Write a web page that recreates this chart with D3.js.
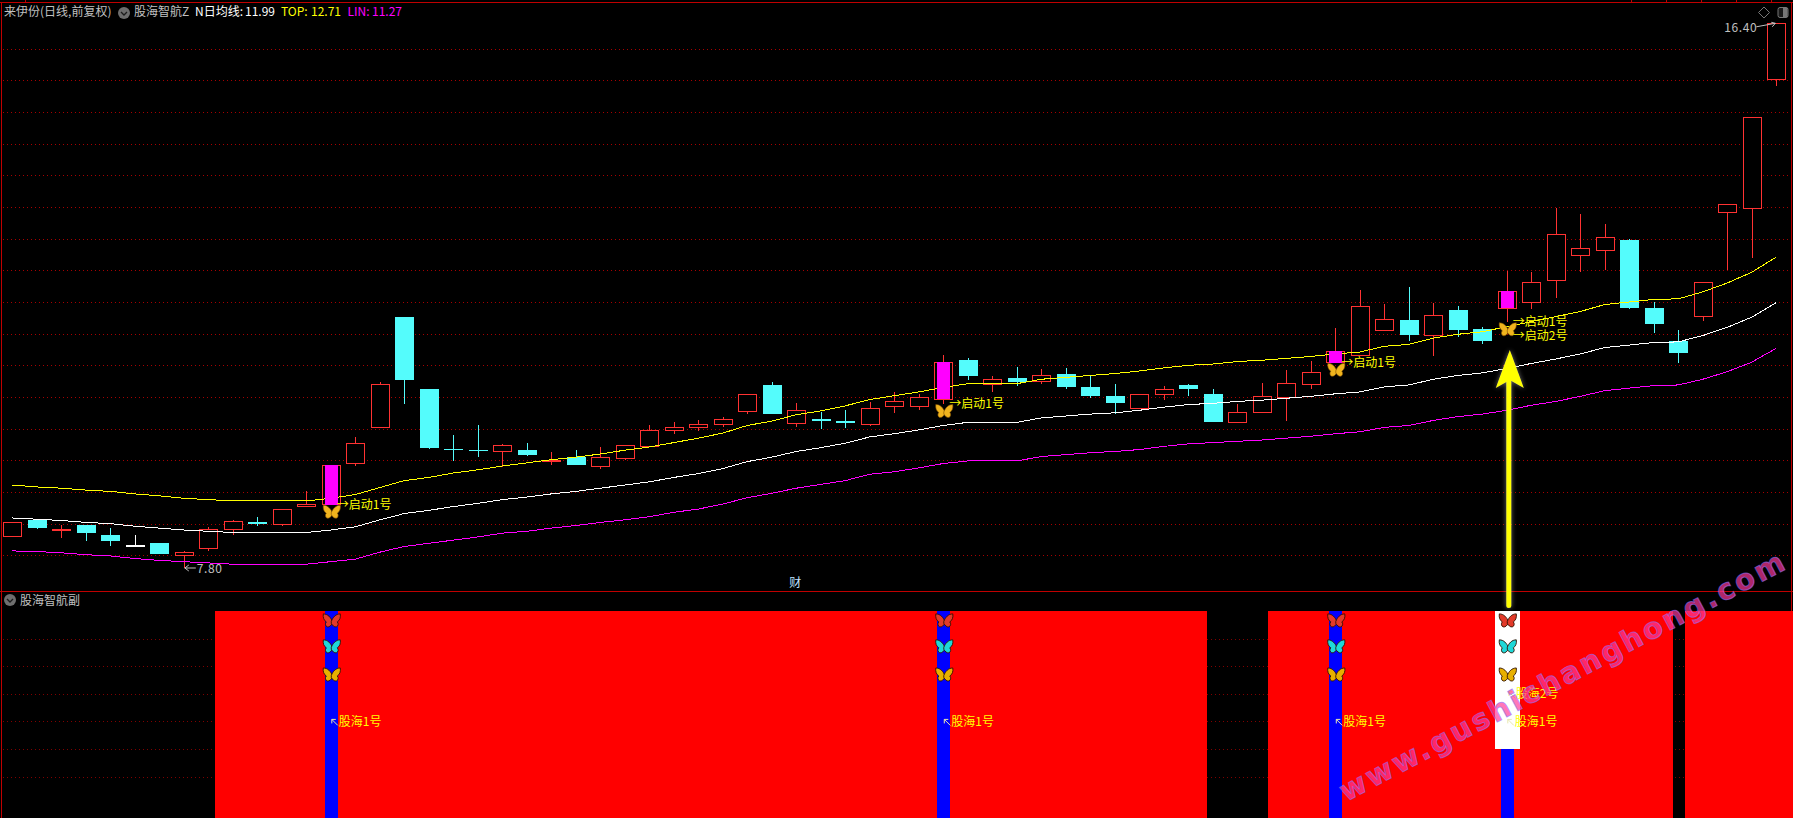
<!DOCTYPE html>
<html>
<head>
<meta charset="utf-8">
<title>来伊份 股海智航</title>
<script src="https://cdn.jsdelivr.net/npm/d3@7"></script>
<style>
html,body{margin:0;padding:0;background:#000;overflow:hidden}
svg{display:block}
text{font-family:"Noto Sans CJK SC","Noto Sans",sans-serif;font-size:12px}
</style>
</head>
<body>
<div id="chart"></div>
<script>
// values, one entry per trading day
const opens=[8.30,8.56,8.41,8.48,8.32,8.17,8.20,8.01,8.12,8.41,8.53,8.49,8.78,8.80,9.46,10.02,11.76,10.63,9.68,9.67,9.64,9.66,9.50,9.55,9.42,9.54,9.73,9.98,10.03,10.08,10.27,10.69,10.09,10.15,10.12,10.06,10.35,10.36,10.47,11.08,10.70,10.80,10.75,10.86,10.66,10.52,10.32,10.54,10.69,10.55,10.11,10.25,10.50,10.70,11.04,11.15,11.56,11.72,11.47,11.88,11.57,11.91,11.99,12.34,12.75,12.81,12.98,11.91,11.38,11.77,13.41,13.49,15.51];
const highs=[8.52,8.56,8.48,8.48,8.43,8.32,8.20,8.07,8.45,8.56,8.61,8.73,9.02,9.42,9.87,10.73,11.76,10.63,9.90,10.06,9.76,9.77,9.63,9.66,9.71,9.74,10.06,10.11,10.14,10.18,10.54,10.74,10.41,10.26,10.30,10.42,10.58,10.55,11.16,11.12,10.83,10.97,10.94,10.96,10.84,10.71,10.54,10.67,10.71,10.63,10.39,10.72,10.93,11.07,11.59,12.19,11.97,12.24,11.98,11.94,11.60,12.49,12.48,13.48,13.39,13.23,12.99,12.00,11.56,12.31,13.54,14.92,16.40];
const lows=[8.30,8.42,8.28,8.23,8.15,8.17,8.02,7.80,8.07,8.32,8.47,8.46,8.78,8.80,9.41,10.02,10.39,9.68,9.49,9.55,9.40,9.57,9.43,9.43,9.36,9.51,9.73,9.92,9.97,10.03,10.23,10.23,10.03,10.00,10.01,10.04,10.25,10.30,10.39,10.77,10.58,10.68,10.70,10.63,10.48,10.23,10.32,10.46,10.52,10.11,10.11,10.25,10.12,10.63,11.04,11.14,11.56,11.38,11.15,11.45,11.34,11.68,11.89,12.06,12.47,12.50,11.89,11.51,11.04,11.70,12.50,12.69,15.41];
const closes=[8.52,8.43,8.42,8.35,8.23,8.17,8.02,8.05,8.42,8.54,8.50,8.73,8.81,9.42,9.77,10.70,10.77,9.70,9.67,9.66,9.74,9.58,9.51,9.43,9.56,9.74,9.98,10.02,10.08,10.16,10.54,10.23,10.29,10.12,10.09,10.32,10.43,10.50,11.05,10.82,10.78,10.74,10.84,10.66,10.52,10.41,10.54,10.62,10.63,10.11,10.26,10.51,10.72,10.89,11.22,11.93,11.73,11.48,11.79,11.57,11.38,12.18,12.31,13.07,12.86,13.02,11.91,11.65,11.19,12.31,13.54,14.92,16.40];
const maLine=[8.59,8.57,8.55,8.52,8.50,8.46,8.43,8.40,8.38,8.36,8.36,8.36,8.36,8.40,8.45,8.56,8.66,8.71,8.77,8.82,8.88,8.92,8.97,9.01,9.06,9.11,9.16,9.23,9.29,9.37,9.48,9.55,9.64,9.70,9.77,9.87,9.92,9.98,10.05,10.10,10.10,10.10,10.17,10.20,10.23,10.25,10.29,10.34,10.38,10.40,10.43,10.45,10.48,10.51,10.55,10.58,10.66,10.69,10.78,10.84,10.88,10.95,11.03,11.10,11.18,11.28,11.32,11.36,11.37,11.47,11.60,11.76,11.99];
const topLine=[9.11,9.08,9.06,9.03,9.01,8.97,8.94,8.90,8.88,8.86,8.86,8.86,8.86,8.90,8.96,9.07,9.18,9.23,9.30,9.35,9.41,9.46,9.51,9.55,9.60,9.66,9.71,9.78,9.85,9.93,10.05,10.12,10.22,10.28,10.36,10.46,10.52,10.58,10.65,10.71,10.71,10.71,10.78,10.81,10.84,10.87,10.91,10.96,11.00,11.02,11.06,11.08,11.11,11.14,11.18,11.21,11.30,11.33,11.43,11.49,11.53,11.61,11.69,11.77,11.85,11.96,12.00,12.04,12.05,12.16,12.30,12.47,12.71];
const linLine=[8.07,8.06,8.04,8.01,7.99,7.95,7.92,7.90,7.88,7.86,7.86,7.86,7.86,7.90,7.94,8.05,8.14,8.19,8.24,8.29,8.35,8.38,8.43,8.47,8.52,8.56,8.61,8.68,8.73,8.81,8.91,8.98,9.06,9.12,9.18,9.28,9.32,9.38,9.45,9.49,9.49,9.49,9.56,9.59,9.62,9.64,9.67,9.72,9.76,9.78,9.80,9.82,9.85,9.88,9.92,9.95,10.02,10.05,10.13,10.19,10.23,10.29,10.37,10.43,10.51,10.60,10.64,10.68,10.69,10.78,10.90,11.05,11.27];
const gridPrices=[8,8.5,9,9.5,10,10.5,11,11.5,12,12.5,13,13.5,14,14.5,15,15.5,16];
const subGrid=[1,2,3,4,5,6];
const signalDays=[13,38,54,61];      // magenta candle, blue stick, butterflies
const secondSignalDays=[61];         // white stick, 启动2号, 股海2号
const redSpans=[[9,48],[52,67],[69,72]];
const subButterflies=[{v:6.66,c:"#e23a2a"},{v:5.72,c:"#1fd8d8"},{v:4.7,c:"#e8b000"}];

const W=1793,H=818,RED="#ff3232",CYAN="#54fcfc",border="#c00000";
const n=closes.length,days=d3.range(n);
const svg=d3.select("#chart").append("svg").attr("width",W).attr("height",H).style("background","#000");
const x=d3.scaleLinear().domain([0,n-1]).range([12.3,1776.3]);
const y=d3.scaleLinear().domain([7.80,16.40]).range([568,23.3]);
const sy=d3.scaleLinear().domain([-0.5,7]).range([818,611]);
const px=v=>Math.round(v)+.5;

// frame
const frame=svg.append("g").attr("shape-rendering","crispEdges").attr("stroke",border);
frame.append("line").attr("x1",0).attr("x2",W).attr("y1",2.5).attr("y2",2.5);
frame.append("line").attr("x1",1.5).attr("x2",1.5).attr("y1",2).attr("y2",H);
frame.append("line").attr("x1",W-1.5).attr("x2",W-1.5).attr("y1",2).attr("y2",H);
frame.append("line").attr("x1",0).attr("x2",W).attr("y1",591.5).attr("y2",591.5);
frame.selectAll(".tick").data([25,1631,1666,1701,1736,1771]).join("line")
  .attr("x1",d=>d+.5).attr("x2",d=>d+.5).attr("y1",0).attr("y2",2);

// grids
svg.append("g").selectAll("line").data(gridPrices).join("line")
  .attr("x1",3).attr("x2",1789).attr("y1",d=>px(y(d))).attr("y2",d=>px(y(d)))
  .attr("stroke","#a80000").attr("stroke-dasharray","1 3").attr("shape-rendering","crispEdges");
svg.append("g").selectAll("line").data(subGrid).join("line")
  .attr("x1",3).attr("x2",1789).attr("y1",d=>px(sy(d))).attr("y2",d=>px(sy(d)))
  .attr("stroke","#800000").attr("stroke-dasharray","1 3").attr("shape-rendering","crispEdges");

// butterfly icon
const wing="M.5,1C-1,-3-4,-6.5-8.5,-6.5C-9,-3-8,0-5.5,1.5C-7,3-6.5,6-4.5,6.5C-2.5,7-.7,5,.5,3Z";
const defs=svg.append("defs");
const bf=defs.append("g").attr("id","butterfly");
bf.append("path").attr("d",wing);
bf.append("path").attr("d",wing).attr("transform","scale(-1,1)");
defs.append("filter").attr("id","glow").attr("x","-50%").attr("y","-10%").attr("width","200%").attr("height","120%")
  .append("feDropShadow").attr("dx",0).attr("dy",0).attr("stdDeviation",2.5).attr("flood-color","#999").attr("flood-opacity",.7);

// candles
const color=i=>closes[i]>opens[i]?RED:closes[i]<opens[i]?CYAN:"#fff";
const cg=svg.append("g").attr("shape-rendering","crispEdges");
cg.selectAll(".wick").data(days).join("line")
  .attr("x1",i=>px(x(i))).attr("x2",i=>px(x(i))).attr("y1",i=>y(highs[i])).attr("y2",i=>y(lows[i]))
  .attr("stroke",color);
cg.selectAll(".body").data(days).join("rect")
  .attr("x",i=>closes[i]<opens[i]?Math.round(x(i))-9:Math.round(x(i))-8.5)
  .attr("width",i=>closes[i]<opens[i]?19:18)
  .attr("y",i=>Math.round(y(Math.max(opens[i],closes[i])))+(closes[i]<opens[i]?0:.5))
  .attr("height",i=>Math.max(1,Math.round(Math.abs(y(opens[i])-y(closes[i])))))
  .attr("fill",i=>closes[i]<opens[i]?CYAN:"#000").attr("stroke",i=>closes[i]<opens[i]?"none":color(i));

// indicator lines
[[maLine,"#fff"],[topLine,"#ffff00"],[linLine,"#ff00ff"]].forEach(([vals,c])=>{
  svg.append("path").datum(vals)
    .attr("d",d3.line().x((d,i)=>x(i)).y(d=>y(d)))
    .attr("fill","none").attr("stroke",c).attr("stroke-width",1).attr("shape-rendering","crispEdges");
});

// signal candles sit above the lines
const sg=svg.append("g");
sg.selectAll("rect").data(signalDays).join("rect")
  .attr("x",i=>Math.round(x(i))-6).attr("width",13)
  .attr("y",i=>y(closes[i])).attr("height",i=>y(opens[i])-y(closes[i]))
  .attr("fill","#ff00ff").attr("shape-rendering","crispEdges");
sg.selectAll("use").data(signalDays).join("use").attr("href","#butterfly")
  .attr("transform",i=>`translate(${x(i)+1},${y(lows[i])+7})`)
  .attr("fill","#f0b41e").attr("stroke","#7a4c00").attr("stroke-width",.6);
sg.selectAll("text").data(signalDays).join("text")
  .attr("x",i=>x(i)+6).attr("y",i=>y(lows[i])+4).attr("fill","#ffff00").text("→启动1号");
sg.selectAll(".second").data(secondSignalDays).join("text")
  .attr("x",i=>x(i)+6).attr("y",i=>y(lows[i])+18).attr("fill","#ffff00").text("→启动2号");

// extremes
const iMax=d3.maxIndex(highs),iMin=d3.minIndex(lows);
const ann=svg.append("g").attr("fill","#c0c0c0");
ann.append("text").attr("x",x(iMin)+13).attr("y",y(lows[iMin])+5).attr("letter-spacing",.6).text(lows[iMin].toFixed(2));
ann.append("path").attr("fill","none").attr("stroke","#c0c0c0")
  .attr("d",`M${x(iMin)+1},${y(lows[iMin])}h11M${x(iMin)+1},${y(lows[iMin])}l4,-3M${x(iMin)+1},${y(lows[iMin])}l4,3`);
ann.append("text").attr("x",x(iMax)-52).attr("y",y(highs[iMax])+9).attr("letter-spacing",.6).text(highs[iMax].toFixed(2));
ann.append("path").attr("fill","none").attr("stroke","#c0c0c0")
  .attr("d",`M${x(iMax)-20},${y(highs[iMax])+3.5}L${x(iMax)-1},${y(highs[iMax])}m-3,3.5l3,-3.5l-4,-1`);
svg.append("text").attr("x",x(32)-7).attr("y",587).attr("fill","#bfe0ff").text("财");

// header
const chevron=(cx,cy)=>{
  svg.append("circle").attr("cx",cx).attr("cy",cy).attr("r",6).attr("fill","#6e6e6e");
  svg.append("path").attr("d",`M${cx-3},${cy-1}l3,3l3,-3`).attr("fill","none").attr("stroke","#1c1c1c").attr("stroke-width",1.3);
};
const last=n-1;
const header=[
  {x:4,c:"#c0c0c0",t:"来伊份(日线,前复权)"},
  {x:134,c:"#c0c0c0",t:"股海智航Z"},
  {x:195,c:"#fff",t:"N日均线:"},
  {x:245,c:"#fff",t:maLine[last].toFixed(2)},
  {x:281,c:"#ffff00",t:"TOP:"},
  {x:311,c:"#ffff00",t:topLine[last].toFixed(2)},
  {x:347.5,c:"#ff00ff",t:"LIN:"},
  {x:372,c:"#ff00ff",t:linLine[last].toFixed(2)}
];
svg.append("g").selectAll("text").data(header).join("text")
  .attr("x",d=>d.x).attr("y",16).attr("fill",d=>d.c).text(d=>d.t);
chevron(124,13);

// window buttons, top right
svg.append("path").attr("d","M1764,7l5.5,5.5l-5.5,5.5l-5.5,-5.5z").attr("fill","none").attr("stroke","#777");
svg.append("rect").attr("x",1778).attr("y",7.5).attr("width",10).attr("height",10).attr("rx",2).attr("fill","#1a1a1a").attr("stroke","#777");
svg.append("rect").attr("x",1783).attr("y",8).attr("width",4.5).attr("height",9).attr("fill","#777");

// sub panel
chevron(10,600);
svg.append("text").attr("x",20).attr("y",605).attr("fill","#c0c0c0").text("股海智航副");

const redDays=redSpans.flatMap(([a,b])=>d3.range(a,b+1));
const sub=svg.append("g").attr("shape-rendering","crispEdges");
sub.selectAll(".red").data(redDays).join("rect")
  .attr("x",i=>x(i)-18).attr("width",37).attr("y",sy(7)).attr("height",sy(-0.5)-sy(7)).attr("fill","#ff0000");
sub.selectAll(".blue").data(signalDays).join("rect")
  .attr("x",i=>Math.round(x(i))-6).attr("width",13).attr("y",sy(7)).attr("height",sy(-0.5)-sy(7)).attr("fill","#0000ff");
sub.selectAll(".white").data(secondSignalDays).join("rect")
  .attr("x",i=>Math.round(x(i))-12).attr("width",25).attr("y",sy(7)).attr("height",sy(2)-sy(7)).attr("fill","#fff");

signalDays.forEach(i=>{
  subButterflies.forEach(b=>{
    svg.append("use").attr("href","#butterfly").attr("transform",`translate(${x(i)+1},${sy(b.v)})`)
      .attr("fill",b.c).attr("stroke","#301000").attr("stroke-width",.9);
  });
  svg.append("text").attr("x",x(i)+8).attr("y",sy(3)+4.5).attr("fill","#ffff00").text("股海1号");
  svg.append("path").attr("d",`M${x(i)+7},${sy(3)+4}l-6,-6m0,4v-4h4`).attr("fill","none").attr("stroke","#e8e8b0");
});
secondSignalDays.forEach(i=>{
  svg.append("text").attr("x",x(i)+9).attr("y",sy(4)+4.5).attr("fill","#ffff00").text("股海2号");
  svg.append("path").attr("d",`M${x(i)+8},${sy(4)+4}l-6,-6m0,4v-4h4`).attr("fill","none").attr("stroke","#ffff66");
});

// big yellow arrow, added on top of the screenshot
const arrowDay=61,arrowTip=11.24,arrowBase=7.2;
const ax=x(arrowDay)+3,tipY=y(arrowTip),baseY=sy(arrowBase);
const arrow=svg.append("g").attr("filter","url(#glow)");
arrow.append("line").attr("x1",ax-1).attr("x2",ax-1).attr("y1",tipY+25).attr("y2",baseY)
  .attr("stroke","#ffff00").attr("stroke-width",5).attr("stroke-linecap","round");
arrow.append("path").attr("d",`M${ax},${tipY}L${ax+14},${tipY+38}L${ax},${tipY+30}L${ax-14},${tipY+38}Z`).attr("fill","#ffff00");

// watermark
svg.append("text").attr("transform","translate(1346,802) rotate(-27.9)")
  .attr("textLength",499).attr("lengthAdjust","spacing")
  .style("font-family","'DejaVu Sans'").style("font-size","29px").style("font-weight","bold")
  .attr("fill","#ff3a98").attr("fill-opacity",.7).attr("stroke","#8a70ff").attr("stroke-opacity",.6).attr("stroke-width",1)
  .text("www.gushichanghong.com");
</script>
</body>
</html>
